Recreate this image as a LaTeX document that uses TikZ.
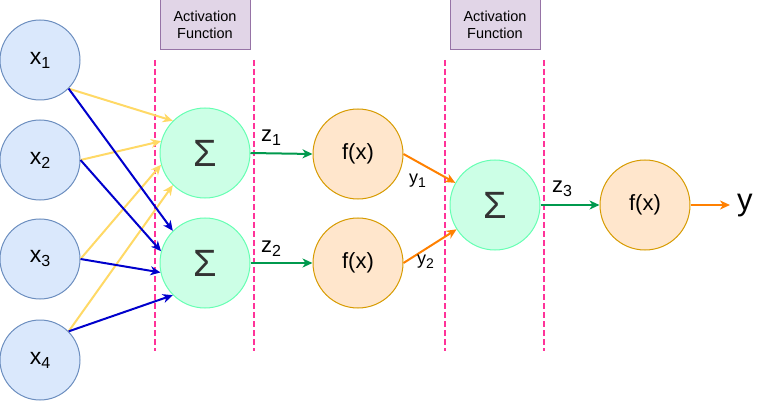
\documentclass[tikz,border=0pt]{standalone}
\usepackage{fontspec}
\setmainfont{Liberation Sans}
\usetikzlibrary{arrows.meta}
\definecolor{inpF}{HTML}{DAE8FC}
\definecolor{inpD}{HTML}{6C8EBF}
\definecolor{sigF}{HTML}{CCFFE6}
\definecolor{sigD}{HTML}{66FFB3}
\definecolor{sigT}{HTML}{333333}
\definecolor{funF}{HTML}{FFE6CC}
\definecolor{funD}{HTML}{D79B00}
\definecolor{boxF}{HTML}{E1D5E7}
\definecolor{boxD}{HTML}{9673A6}
\definecolor{pinkC}{HTML}{FF3399}
\definecolor{yelC}{HTML}{FFD966}
\definecolor{bluC}{HTML}{0000CC}
\definecolor{grnC}{HTML}{00994D}
\definecolor{orgC}{HTML}{FF8000}
\newcommand{\subs}[2][16]{\raisebox{-4pt}{\fontsize{#1}{#1}\selectfont #2}}
\begin{document}
\begin{tikzpicture}[x=1pt,y=-1pt,
  inp/.style={circle, draw=inpD, fill=inpF, line width=1pt, minimum size=80pt, inner sep=0pt, font=\fontsize{23}{23}\selectfont},
  sig/.style={circle, draw=sigD, fill=sigF, line width=1pt, minimum size=90pt, inner sep=0pt, font=\fontsize{38}{38}\selectfont, text=sigT},
  fun/.style={circle, draw=funD, fill=funF, line width=1pt, minimum size=90pt, inner sep=0pt, font=\fontsize{22}{22}\selectfont},
  actbox/.style={rectangle, draw=boxD, fill=boxF, line width=1pt, minimum width=90pt, minimum height=50pt, inner sep=0pt, align=center, font=\fontsize{14.5}{17}\selectfont},
  sep/.style={draw=pinkC, line width=1.8pt, dash pattern=on 6pt off 3pt},
  conn/.style={line width=2pt, -{Stealth[length=10pt,width=9pt,inset=3pt]}},
  lbl/.style={anchor=base west, inner sep=0pt, font=\fontsize{22}{22}\selectfont},
  slbl/.style={anchor=base west, inner sep=0pt, font=\fontsize{18}{18}\selectfont}
]
\useasboundingbox (0,0) rectangle (761,401);
% separators
\coordinate (d1t) at (155,60); \coordinate (d1b) at (155,351);
\coordinate (d2t) at (254,60); \coordinate (d2b) at (254,351);
\coordinate (d3t) at (445,60); \coordinate (d3b) at (445,351);
\coordinate (d4t) at (544,60); \coordinate (d4b) at (544,351);
\draw[sep] (d1t) -- (d1b);
\draw[sep] (d2t) -- (d2b);
\draw[sep] (d3t) -- (d3b);
\draw[sep] (d4t) -- (d4b);
% boxes
\node[actbox] (act1) at (205,25) {Activation\\Function};
\node[actbox] (act2) at (495,25) {Activation\\Function};
% inputs
\node[inp] (x1) at (40,60) {x\subs{1}};
\node[inp] (x2) at (40,160) {x\subs{2}};
\node[inp] (x3) at (40,259) {x\subs{3}};
\node[inp] (x4) at (40,360) {x\subs{4}};
% sums
\node[sig] (s1) at (205,153) {Σ};
\node[sig] (s2) at (205,263) {Σ};
\node[sig] (s3) at (495,205) {Σ};
% functions
\node[fun] (f1) at (358,154) {f(x)};
\node[fun] (f2) at (358,263) {f(x)};
\node[fun] (f3) at (645,205) {f(x)};
% input connectors
\draw[conn, yelC] (x1.-45) -- (s1.135);
\draw[conn, yelC] (x2.east) -- (s1.165);
\draw[conn, yelC] (x3.east) -- (s1.195);
\draw[conn, yelC] (x4.45) -- (s1.225);
\draw[conn, bluC] (x1.-45) -- (s2.135);
\draw[conn, bluC] (x2.east) -- (s2.165);
\draw[conn, bluC] (x3.east) -- (s2.192);
\draw[conn, bluC] (x4.45) -- (s2.225);
% hidden connectors
\draw[conn, grnC] (s1.east) -- (f1.west);
\draw[conn, grnC] (s2.east) -- (f2.west);
\draw[conn, orgC] (f1.east) -- (s3);
\draw[conn, orgC] (f2.east) -- (s3);
\draw[conn, grnC] (s3.east) -- (f3.west);
\coordinate (yend) at (730,205);
\draw[conn, orgC] (f3.east) -- (yend);
% labels
\node[lbl] (z1) at (261,142) {z\subs{1}};
\node[lbl] (z2) at (261,252) {z\subs{2}};
\node[lbl] (z3) at (552,193) {z\subs{3}};
\node[slbl] (y1) at (409,184) {y\subs[14]{1}};
\node[slbl] (y2) at (417,264) {y\subs[14]{2}};
\node[anchor=base west, inner sep=0pt, font=\fontsize{31}{31}\selectfont] (yout) at (737,211) {y};
\end{tikzpicture}
\end{document}
